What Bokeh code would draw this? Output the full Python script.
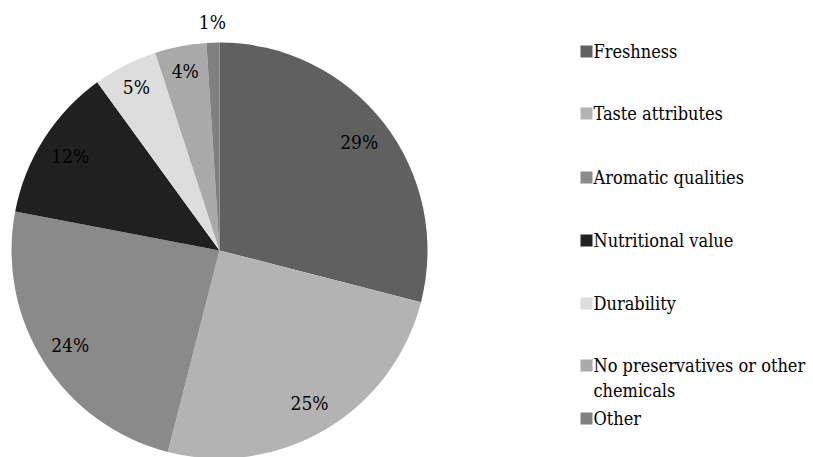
import math
from bokeh.plotting import figure
from bokeh.models import Range1d, ColumnDataSource
from bokeh.core.properties import value
from bokeh.embed import file_html
from bokeh.resources import INLINE

# ---- data ----
categories = ["Freshness", "Taste attributes", "Aromatic qualities", "Nutritional value",
              "Durability", "No preservatives or other chemicals", "Other"]
legend_labels = ["Freshness", "Taste attributes", "Aromatic qualities", "Nutritional value",
                 "Durability", "No preservatives or other\nchemicals", "Other"]
shares = [29, 25, 24, 12, 5, 4, 1]
colors = ["#606060", "#b3b3b3", "#8a8a8a", "#202020", "#dddddd", "#a9a9a9", "#808080"]

# ---- layout ----
W, H = 813, 457
cx, cy, R = 219, H - 250, 208
FONT = "DejaVu Serif Condensed"

p = figure(width=W, height=H, output_backend="svg", toolbar_location=None,
           x_range=Range1d(0, W), y_range=Range1d(0, H), min_border=0)
p.axis.visible = False
p.grid.visible = False
p.outline_line_color = None
p.background_fill_color = "white"

total = sum(shares)
starts, ends, lx, ly, ltxt = [], [], [], [], []
cum = 0.0
for s in shares:
    a0 = math.pi / 2 - 2 * math.pi * cum / total
    cum += s
    a1 = math.pi / 2 - 2 * math.pi * cum / total
    starts.append(a0)
    ends.append(a1)
    mid = (a0 + a1) / 2
    frac = s / total
    rr = R * (1.1 if frac < 0.02 else (0.88 if frac < 0.07 else 0.85))
    lx.append(cx + rr * math.cos(mid))
    ly.append(cy + rr * math.sin(mid))
    ltxt.append(f"{round(100 * frac)}%")

src = ColumnDataSource(dict(start=starts, end=ends, color=colors, cat=categories))
p.wedge(x=cx, y=cy, radius=R, start_angle="start", end_angle="end", direction="clock",
        fill_color="color", line_color=None, source=src)

p.text(x=lx, y=ly, text=ltxt, text_font=value(FONT), text_font_size="19px",
       text_align="center", text_baseline="middle", text_color="#000000")

# ---- legend (drawn manually) ----
legend_rows = [51, 113, 177, 240, 303, 365, 418]  # row centers from top (px)
sq_x, txt_x, line_h = 586, 593, 25
for lab, col, ry in zip(legend_labels, colors, legend_rows):
    y = H - ry
    p.rect(x=[sq_x], y=[y], width=12, height=12, fill_color=col, line_color=None)
    for k, line in enumerate(lab.split("\n")):
        p.text(x=[txt_x], y=[y - k * line_h], text=[line], text_font=value(FONT),
               text_font_size="18px", text_align="left", text_baseline="middle",
               text_color="#000000")

open("out.html", "w").write(file_html(p, INLINE))
